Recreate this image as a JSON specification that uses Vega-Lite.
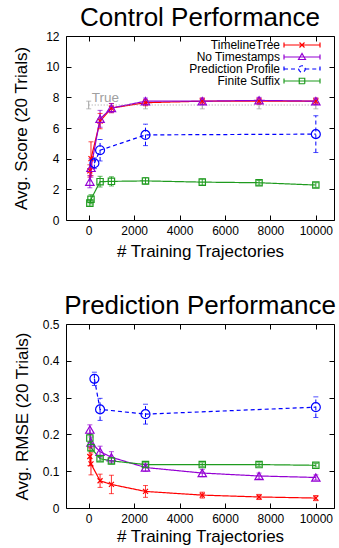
{
  "$schema": "https://vega.github.io/schema/vega-lite/v6.json",
  "background": "white",
  "padding": {"left": 12, "top": 4, "right": 0, "bottom": 0},
  "spacing": 32,
  "config": {
    "view": {"stroke": "black", "strokeWidth": 1},
    "font": "Liberation Sans",
    "title": {"fontSize": 26, "fontWeight": "normal", "font": "Liberation Sans", "color": "black", "frame": "group", "offset": -1},
    "axis": {
      "labelFont": "Liberation Sans", "labelFontSize": 12, "labelColor": "black",
      "titleFont": "Liberation Sans", "titleFontSize": 17, "titleFontWeight": "normal", "titleColor": "black",
      "tickColor": "black", "tickSize": 5, "offset": -5, "grid": false, "domain": false, "labelOverlap": false
    },
    "axisY": {"labelOverlap": false},
    "axisLeft": {"labelOverlap": false},
    "tick": {"thickness": 1},
    "legend": {"symbolFillColor": "transparent"}
  },
  "datasets": {
    "control": [
      {"s": "TimelineTree", "n": 50, "v": 3.2, "lo": 2.8, "hi": 3.6},
      {"s": "TimelineTree", "n": 100, "v": 4.0, "lo": 2.9, "hi": 5.1},
      {"s": "TimelineTree", "n": 500, "v": 6.45, "lo": 5.95, "hi": 6.95},
      {"s": "TimelineTree", "n": 1000, "v": 7.3, "lo": 7.0, "hi": 7.6},
      {"s": "TimelineTree", "n": 2500, "v": 7.65, "lo": 7.45, "hi": 7.85},
      {"s": "TimelineTree", "n": 5000, "v": 7.75, "lo": 7.55, "hi": 7.95},
      {"s": "TimelineTree", "n": 7500, "v": 7.75, "lo": 7.55, "hi": 7.95},
      {"s": "TimelineTree", "n": 10000, "v": 7.75, "lo": 7.55, "hi": 7.95},
      {"s": "No Timestamps", "n": 50, "v": 2.5, "lo": 2.1, "hi": 2.9},
      {"s": "No Timestamps", "n": 100, "v": 3.4, "lo": 2.8, "hi": 4.0},
      {"s": "No Timestamps", "n": 500, "v": 6.6, "lo": 6.05, "hi": 7.15},
      {"s": "No Timestamps", "n": 1000, "v": 7.3, "lo": 7.0, "hi": 7.6},
      {"s": "No Timestamps", "n": 2500, "v": 7.75, "lo": 7.55, "hi": 7.95},
      {"s": "No Timestamps", "n": 5000, "v": 7.75, "lo": 7.55, "hi": 7.95},
      {"s": "No Timestamps", "n": 7500, "v": 7.8, "lo": 7.6, "hi": 8.0},
      {"s": "No Timestamps", "n": 10000, "v": 7.75, "lo": 7.55, "hi": 7.95},
      {"s": "Prediction Profile", "n": 250, "v": 3.7, "lo": 3.35, "hi": 4.05},
      {"s": "Prediction Profile", "n": 500, "v": 4.55, "lo": 3.85, "hi": 5.25},
      {"s": "Prediction Profile", "n": 2500, "v": 5.55, "lo": 4.85, "hi": 6.25},
      {"s": "Prediction Profile", "n": 10000, "v": 5.6, "lo": 4.4, "hi": 6.8},
      {"s": "Finite Suffix", "n": 50, "v": 1.1, "lo": 0.9, "hi": 1.3},
      {"s": "Finite Suffix", "n": 100, "v": 1.35, "lo": 1.05, "hi": 1.65},
      {"s": "Finite Suffix", "n": 500, "v": 2.5, "lo": 2.15, "hi": 2.85},
      {"s": "Finite Suffix", "n": 1000, "v": 2.52, "lo": 2.22, "hi": 2.82},
      {"s": "Finite Suffix", "n": 2500, "v": 2.55, "lo": 2.35, "hi": 2.75},
      {"s": "Finite Suffix", "n": 5000, "v": 2.47, "lo": 2.27, "hi": 2.67},
      {"s": "Finite Suffix", "n": 7500, "v": 2.43, "lo": 2.28, "hi": 2.58},
      {"s": "Finite Suffix", "n": 10000, "v": 2.28, "lo": 2.13, "hi": 2.43}
    ],
    "ctrue": [
      {"n": 0, "v": 7.5, "lo": 7.25, "hi": 7.75},
      {"n": 2500, "v": 7.5, "lo": 7.25, "hi": 7.75},
      {"n": 5000, "v": 7.5, "lo": 7.25, "hi": 7.75},
      {"n": 7500, "v": 7.5, "lo": 7.25, "hi": 7.75},
      {"n": 10000, "v": 7.5, "lo": 7.25, "hi": 7.75}
    ],
    "truelabel": [{"n": 0, "v": 7.5, "label": "True"}],
    "pred": [
      {"s": "TimelineTree", "n": 50, "v": 0.14, "lo": 0.115, "hi": 0.165},
      {"s": "TimelineTree", "n": 100, "v": 0.12, "lo": 0.09, "hi": 0.15},
      {"s": "TimelineTree", "n": 500, "v": 0.074, "lo": 0.056, "hi": 0.092},
      {"s": "TimelineTree", "n": 1000, "v": 0.064, "lo": 0.039, "hi": 0.089},
      {"s": "TimelineTree", "n": 2500, "v": 0.045, "lo": 0.029, "hi": 0.061},
      {"s": "TimelineTree", "n": 5000, "v": 0.035, "lo": 0.027, "hi": 0.043},
      {"s": "TimelineTree", "n": 7500, "v": 0.03, "lo": 0.023, "hi": 0.037},
      {"s": "TimelineTree", "n": 10000, "v": 0.027, "lo": 0.02, "hi": 0.034},
      {"s": "No Timestamps", "n": 50, "v": 0.213, "lo": 0.2, "hi": 0.226},
      {"s": "No Timestamps", "n": 100, "v": 0.178, "lo": 0.163, "hi": 0.193},
      {"s": "No Timestamps", "n": 500, "v": 0.153, "lo": 0.138, "hi": 0.168},
      {"s": "No Timestamps", "n": 1000, "v": 0.138, "lo": 0.123, "hi": 0.153},
      {"s": "No Timestamps", "n": 2500, "v": 0.11, "lo": 0.1, "hi": 0.12},
      {"s": "No Timestamps", "n": 5000, "v": 0.095, "lo": 0.085, "hi": 0.105},
      {"s": "No Timestamps", "n": 7500, "v": 0.087, "lo": 0.079, "hi": 0.095},
      {"s": "No Timestamps", "n": 10000, "v": 0.083, "lo": 0.076, "hi": 0.09},
      {"s": "Prediction Profile", "n": 250, "v": 0.351, "lo": 0.333, "hi": 0.369},
      {"s": "Prediction Profile", "n": 500, "v": 0.268, "lo": 0.238, "hi": 0.298},
      {"s": "Prediction Profile", "n": 2500, "v": 0.255, "lo": 0.228, "hi": 0.282},
      {"s": "Prediction Profile", "n": 10000, "v": 0.274, "lo": 0.246, "hi": 0.302},
      {"s": "Finite Suffix", "n": 50, "v": 0.19, "lo": 0.178, "hi": 0.202},
      {"s": "Finite Suffix", "n": 100, "v": 0.164, "lo": 0.154, "hi": 0.174},
      {"s": "Finite Suffix", "n": 500, "v": 0.134, "lo": 0.128, "hi": 0.14},
      {"s": "Finite Suffix", "n": 1000, "v": 0.128, "lo": 0.12, "hi": 0.136},
      {"s": "Finite Suffix", "n": 2500, "v": 0.118, "lo": 0.112, "hi": 0.124},
      {"s": "Finite Suffix", "n": 5000, "v": 0.118, "lo": 0.113, "hi": 0.123},
      {"s": "Finite Suffix", "n": 7500, "v": 0.118, "lo": 0.113, "hi": 0.123},
      {"s": "Finite Suffix", "n": 10000, "v": 0.116, "lo": 0.111, "hi": 0.121}
    ]
  },
  "vconcat": [
    {
      "width": 268, "height": 184,
      "title": {"text": "Control Performance"},
      "layer": [
        {
          "layer": [
            {
              "data": {"name": "control"},
              "mark": {"type": "line", "strokeWidth": 1.2},
              "encoding": {
                "x": {"field": "n", "type": "quantitative", "title": "# Training Trajectories", "scale": {"domain": [-1000, 10800], "nice": false, "zero": false}, "axis": {"values": [0, 2000, 4000, 6000, 8000, 10000], "format": "d", "labelPadding": 5, "titlePadding": 7}},
                "y": {"field": "v", "type": "quantitative", "title": "Avg. Score (20 Trials)", "scale": {"domain": [0, 12], "nice": false, "zero": false}, "axis": {"values": [0, 2, 4, 6, 8, 10, 12], "tickCount": 7, "labelPadding": 7, "titlePadding": 15, "labelOverlap": false}},
                "color": {"field": "s", "type": "nominal", "scale": {"domain": ["TimelineTree", "No Timestamps", "Prediction Profile", "Finite Suffix"], "range": ["#ff0000", "#9400d3", "#0000ff", "#1f9b1f"]},
                  "legend": {"orient": "none", "legendX": 217, "legendY": 3, "title": null, "padding": 0, "symbolSize": 100, "symbolOffset": 13, "labelOffset": -28, "labelAlign": "right", "labelFontSize": 12, "labelFont": "Liberation Sans", "labelColor": "black", "rowPadding": 0, "symbolStrokeWidth": 1.2, "symbolFillColor": "transparent",
                    "encode": {"symbols": {"update": {
                      "shape": {"signal": "datum.value === 'TimelineTree' ? 'M-3.6,0H3.6M-3.6,-0.5V0.5M3.6,-0.5V0.5M-0.5,-0.5L0.5,0.5M-0.5,0.5L0.5,-0.5' : datum.value === 'No Timestamps' ? 'M-3.6,0H3.6M-3.6,-0.5V0.5M3.6,-0.5V0.5M0,-0.7L0.7,0.5L-0.7,0.5Z' : datum.value === 'Prediction Profile' ? 'M-3.6,0H-0.65M0.65,0H3.6M-3.6,-0.5V0.5M3.6,-0.5V0.5M-0.65,0A0.65,0.65 0 1,0 0.65,0A0.65,0.65 0 1,0 -0.65,0' : 'M-3.6,0H3.6M-3.6,-0.5V0.5M3.6,-0.5V0.5M-0.55,-0.55H0.55V0.55H-0.55Z'"},
                      "strokeDash": {"signal": "datum.value === 'Prediction Profile' ? [3, 2] : [1, 0]"},
                      "fill": {"value": "transparent"},
                      "fillOpacity": {"value": 0},
                      "strokeWidth": {"value": 1.2}
                    }}}
                  }},
                "strokeDash": {"field": "s", "type": "nominal", "scale": {"domain": ["TimelineTree", "No Timestamps", "Prediction Profile", "Finite Suffix"], "range": [[1, 0], [1, 0], [4, 3], [1, 0]]}, "legend": null}
              }
            },
            {
              "data": {"name": "ctrue"},
              "mark": {"type": "line", "color": "#a0a0a0", "strokeDash": [1, 2], "strokeWidth": 1},
              "encoding": {
                "x": {"field": "n", "type": "quantitative", "title": "# Training Trajectories"},
                "y": {"field": "v", "type": "quantitative", "title": "Avg. Score (20 Trials)"}
              }
            },
            {
              "data": {"name": "ctrue"},
              "mark": {"type": "rule", "color": "#a0a0a0", "strokeWidth": 1},
              "encoding": {
                "x": {"field": "n", "type": "quantitative", "title": "# Training Trajectories"},
                "y": {"field": "lo", "type": "quantitative", "title": "Avg. Score (20 Trials)"},
                "y2": {"field": "hi"}
              }
            },
            {
              "data": {"name": "ctrue"},
              "mark": {"type": "tick", "orient": "horizontal", "color": "#a0a0a0", "size": 5, "thickness": 1},
              "encoding": {
                "x": {"field": "n", "type": "quantitative", "title": "# Training Trajectories"},
                "y": {"field": "lo", "type": "quantitative", "title": "Avg. Score (20 Trials)"}
              }
            },
            {
              "data": {"name": "ctrue"},
              "mark": {"type": "tick", "orient": "horizontal", "color": "#a0a0a0", "size": 5, "thickness": 1},
              "encoding": {
                "x": {"field": "n", "type": "quantitative", "title": "# Training Trajectories"},
                "y": {"field": "hi", "type": "quantitative", "title": "Avg. Score (20 Trials)"}
              }
            },
            {
              "data": {"name": "truelabel"},
              "mark": {"type": "text", "align": "left", "baseline": "alphabetic", "dx": 3, "dy": -3, "fontSize": 13.5, "color": "#a0a0a0", "font": "Liberation Sans"},
              "encoding": {
                "x": {"field": "n", "type": "quantitative", "title": "# Training Trajectories"},
                "y": {"field": "v", "type": "quantitative", "title": "Avg. Score (20 Trials)"},
                "text": {"field": "label"}
              }
            },
            {
              "data": {"name": "control"},
              "mark": {"type": "rule", "strokeWidth": 1},
              "encoding": {
                "x": {"field": "n", "type": "quantitative", "title": "# Training Trajectories"},
                "y": {"field": "lo", "type": "quantitative", "title": "Avg. Score (20 Trials)"},
                "y2": {"field": "hi"},
                "color": {"field": "s", "type": "nominal"},
                "strokeDash": {"field": "s", "type": "nominal", "legend": null}
              }
            },
            {
              "data": {"name": "control"},
              "mark": {"type": "tick", "orient": "horizontal", "size": 5, "thickness": 1},
              "encoding": {
                "x": {"field": "n", "type": "quantitative", "title": "# Training Trajectories"},
                "y": {"field": "lo", "type": "quantitative", "title": "Avg. Score (20 Trials)"},
                "color": {"field": "s", "type": "nominal"}
              }
            },
            {
              "data": {"name": "control"},
              "mark": {"type": "tick", "orient": "horizontal", "size": 5, "thickness": 1},
              "encoding": {
                "x": {"field": "n", "type": "quantitative", "title": "# Training Trajectories"},
                "y": {"field": "hi", "type": "quantitative", "title": "Avg. Score (20 Trials)"},
                "color": {"field": "s", "type": "nominal"}
              }
            },
            {
              "data": {"name": "control"},
              "transform": [{"filter": "datum.s === 'TimelineTree'"}],
              "mark": {"type": "point", "filled": false, "strokeWidth": 1.2, "opacity": 1, "color": "#ff0000", "shape": "M-1,-1L1,1M-1,1L1,-1", "size": 25},
              "encoding": {"x": {"field": "n", "type": "quantitative", "title": "# Training Trajectories"}, "y": {"field": "v", "type": "quantitative", "title": "Avg. Score (20 Trials)"}}
            },
            {
              "data": {"name": "control"},
              "transform": [{"filter": "datum.s === 'No Timestamps'"}],
              "mark": {"type": "point", "filled": false, "strokeWidth": 1.2, "opacity": 1, "color": "#9400d3", "shape": "triangle-up", "size": 70},
              "encoding": {"x": {"field": "n", "type": "quantitative", "title": "# Training Trajectories"}, "y": {"field": "v", "type": "quantitative", "title": "Avg. Score (20 Trials)"}}
            },
            {
              "data": {"name": "control"},
              "transform": [{"filter": "datum.s === 'Prediction Profile'"}],
              "mark": {"type": "point", "filled": false, "strokeWidth": 1.2, "opacity": 1, "color": "#0000ff", "shape": "circle", "size": 80},
              "encoding": {"x": {"field": "n", "type": "quantitative", "title": "# Training Trajectories"}, "y": {"field": "v", "type": "quantitative", "title": "Avg. Score (20 Trials)"}}
            },
            {
              "data": {"name": "control"},
              "transform": [{"filter": "datum.s === 'Finite Suffix'"}],
              "mark": {"type": "point", "filled": false, "strokeWidth": 1.2, "opacity": 1, "color": "#1f9b1f", "shape": "square", "size": 40},
              "encoding": {"x": {"field": "n", "type": "quantitative", "title": "# Training Trajectories"}, "y": {"field": "v", "type": "quantitative", "title": "Avg. Score (20 Trials)"}}
            }
          ]
        },
        {
          "data": {"name": "ctrue"},
          "mark": {"type": "point", "opacity": 0},
          "encoding": {
            "x": {"field": "n", "type": "quantitative", "axis": {"orient": "top", "labels": false, "title": null, "values": [0, 2000, 4000, 6000, 8000, 10000]}},
            "y": {"field": "v", "type": "quantitative", "axis": {"orient": "right", "labels": false, "title": null, "values": [0, 2, 4, 6, 8, 10, 12]}}
          }
        }
      ],
      "resolve": {"axis": {"x": "independent", "y": "independent"}}
    },
    {
      "width": 268, "height": 184,
      "title": {"text": "Prediction Performance"},
      "layer": [
        {
          "layer": [
            {
              "data": {"name": "pred"},
              "mark": {"type": "line", "strokeWidth": 1.2},
              "encoding": {
                "x": {"field": "n", "type": "quantitative", "title": "# Training Trajectories", "scale": {"domain": [-1000, 10800], "nice": false, "zero": false}, "axis": {"values": [0, 2000, 4000, 6000, 8000, 10000], "format": "d", "labelPadding": 5, "titlePadding": 4}},
                "y": {"field": "v", "type": "quantitative", "title": "Avg. RMSE (20 Trials)", "scale": {"domain": [0, 0.5], "nice": false, "zero": false}, "axis": {"values": [0, 0.1, 0.2, 0.3, 0.4, 0.5], "tickCount": 6, "format": "~g", "labelPadding": 7, "titlePadding": 11, "labelOverlap": false}},
                "color": {"field": "s", "type": "nominal", "scale": {"domain": ["TimelineTree", "No Timestamps", "Prediction Profile", "Finite Suffix"], "range": ["#ff0000", "#9400d3", "#0000ff", "#1f9b1f"]},
                  "legend": {"orient": "none", "legendX": 217, "legendY": 5, "title": null, "padding": 0, "symbolSize": 100, "symbolOffset": 13, "labelOffset": -28, "labelAlign": "right", "labelFontSize": 12, "labelFont": "Liberation Sans", "labelColor": "black", "rowPadding": 0, "symbolStrokeWidth": 1.2, "symbolFillColor": "transparent",
                    "encode": {"symbols": {"update": {
                      "shape": {"signal": "datum.value === 'TimelineTree' ? 'M-3.6,0H3.6M-3.6,-0.5V0.5M3.6,-0.5V0.5M-0.5,-0.5L0.5,0.5M-0.5,0.5L0.5,-0.5' : datum.value === 'No Timestamps' ? 'M-3.6,0H3.6M-3.6,-0.5V0.5M3.6,-0.5V0.5M0,-0.7L0.7,0.5L-0.7,0.5Z' : datum.value === 'Prediction Profile' ? 'M-3.6,0H-0.65M0.65,0H3.6M-3.6,-0.5V0.5M3.6,-0.5V0.5M-0.65,0A0.65,0.65 0 1,0 0.65,0A0.65,0.65 0 1,0 -0.65,0' : 'M-3.6,0H3.6M-3.6,-0.5V0.5M3.6,-0.5V0.5M-0.55,-0.55H0.55V0.55H-0.55Z'"},
                      "strokeDash": {"signal": "datum.value === 'Prediction Profile' ? [3, 2] : [1, 0]"},
                      "fill": {"value": "transparent"},
                      "fillOpacity": {"value": 0},
                      "strokeWidth": {"value": 1.2}
                    }}}
                  }},
                "strokeDash": {"field": "s", "type": "nominal", "scale": {"domain": ["TimelineTree", "No Timestamps", "Prediction Profile", "Finite Suffix"], "range": [[1, 0], [1, 0], [4, 3], [1, 0]]}, "legend": null}
              }
            },
            {
              "data": {"name": "pred"},
              "mark": {"type": "rule", "strokeWidth": 1},
              "encoding": {
                "x": {"field": "n", "type": "quantitative", "title": "# Training Trajectories"},
                "y": {"field": "lo", "type": "quantitative", "title": "Avg. RMSE (20 Trials)"},
                "y2": {"field": "hi"},
                "color": {"field": "s", "type": "nominal"},
                "strokeDash": {"field": "s", "type": "nominal", "legend": null}
              }
            },
            {
              "data": {"name": "pred"},
              "mark": {"type": "tick", "orient": "horizontal", "size": 5, "thickness": 1},
              "encoding": {
                "x": {"field": "n", "type": "quantitative", "title": "# Training Trajectories"},
                "y": {"field": "lo", "type": "quantitative", "title": "Avg. RMSE (20 Trials)"},
                "color": {"field": "s", "type": "nominal"}
              }
            },
            {
              "data": {"name": "pred"},
              "mark": {"type": "tick", "orient": "horizontal", "size": 5, "thickness": 1},
              "encoding": {
                "x": {"field": "n", "type": "quantitative", "title": "# Training Trajectories"},
                "y": {"field": "hi", "type": "quantitative", "title": "Avg. RMSE (20 Trials)"},
                "color": {"field": "s", "type": "nominal"}
              }
            },
            {
              "data": {"name": "pred"},
              "transform": [{"filter": "datum.s === 'TimelineTree'"}],
              "mark": {"type": "point", "filled": false, "strokeWidth": 1.2, "opacity": 1, "color": "#ff0000", "shape": "M-1,-1L1,1M-1,1L1,-1", "size": 25},
              "encoding": {"x": {"field": "n", "type": "quantitative", "title": "# Training Trajectories"}, "y": {"field": "v", "type": "quantitative", "title": "Avg. RMSE (20 Trials)"}}
            },
            {
              "data": {"name": "pred"},
              "transform": [{"filter": "datum.s === 'No Timestamps'"}],
              "mark": {"type": "point", "filled": false, "strokeWidth": 1.2, "opacity": 1, "color": "#9400d3", "shape": "triangle-up", "size": 70},
              "encoding": {"x": {"field": "n", "type": "quantitative", "title": "# Training Trajectories"}, "y": {"field": "v", "type": "quantitative", "title": "Avg. RMSE (20 Trials)"}}
            },
            {
              "data": {"name": "pred"},
              "transform": [{"filter": "datum.s === 'Prediction Profile'"}],
              "mark": {"type": "point", "filled": false, "strokeWidth": 1.2, "opacity": 1, "color": "#0000ff", "shape": "circle", "size": 80},
              "encoding": {"x": {"field": "n", "type": "quantitative", "title": "# Training Trajectories"}, "y": {"field": "v", "type": "quantitative", "title": "Avg. RMSE (20 Trials)"}}
            },
            {
              "data": {"name": "pred"},
              "transform": [{"filter": "datum.s === 'Finite Suffix'"}],
              "mark": {"type": "point", "filled": false, "strokeWidth": 1.2, "opacity": 1, "color": "#1f9b1f", "shape": "square", "size": 40},
              "encoding": {"x": {"field": "n", "type": "quantitative", "title": "# Training Trajectories"}, "y": {"field": "v", "type": "quantitative", "title": "Avg. RMSE (20 Trials)"}}
            }
          ]
        },
        {
          "data": {"name": "pred"},
          "mark": {"type": "point", "opacity": 0},
          "encoding": {
            "x": {"field": "n", "type": "quantitative", "axis": {"orient": "top", "labels": false, "title": null, "values": [0, 2000, 4000, 6000, 8000, 10000]}},
            "y": {"field": "v", "type": "quantitative", "axis": {"orient": "right", "labels": false, "title": null, "values": [0, 0.1, 0.2, 0.3, 0.4, 0.5]}}
          }
        }
      ],
      "resolve": {"axis": {"x": "independent", "y": "independent"}}
    }
  ]
}
